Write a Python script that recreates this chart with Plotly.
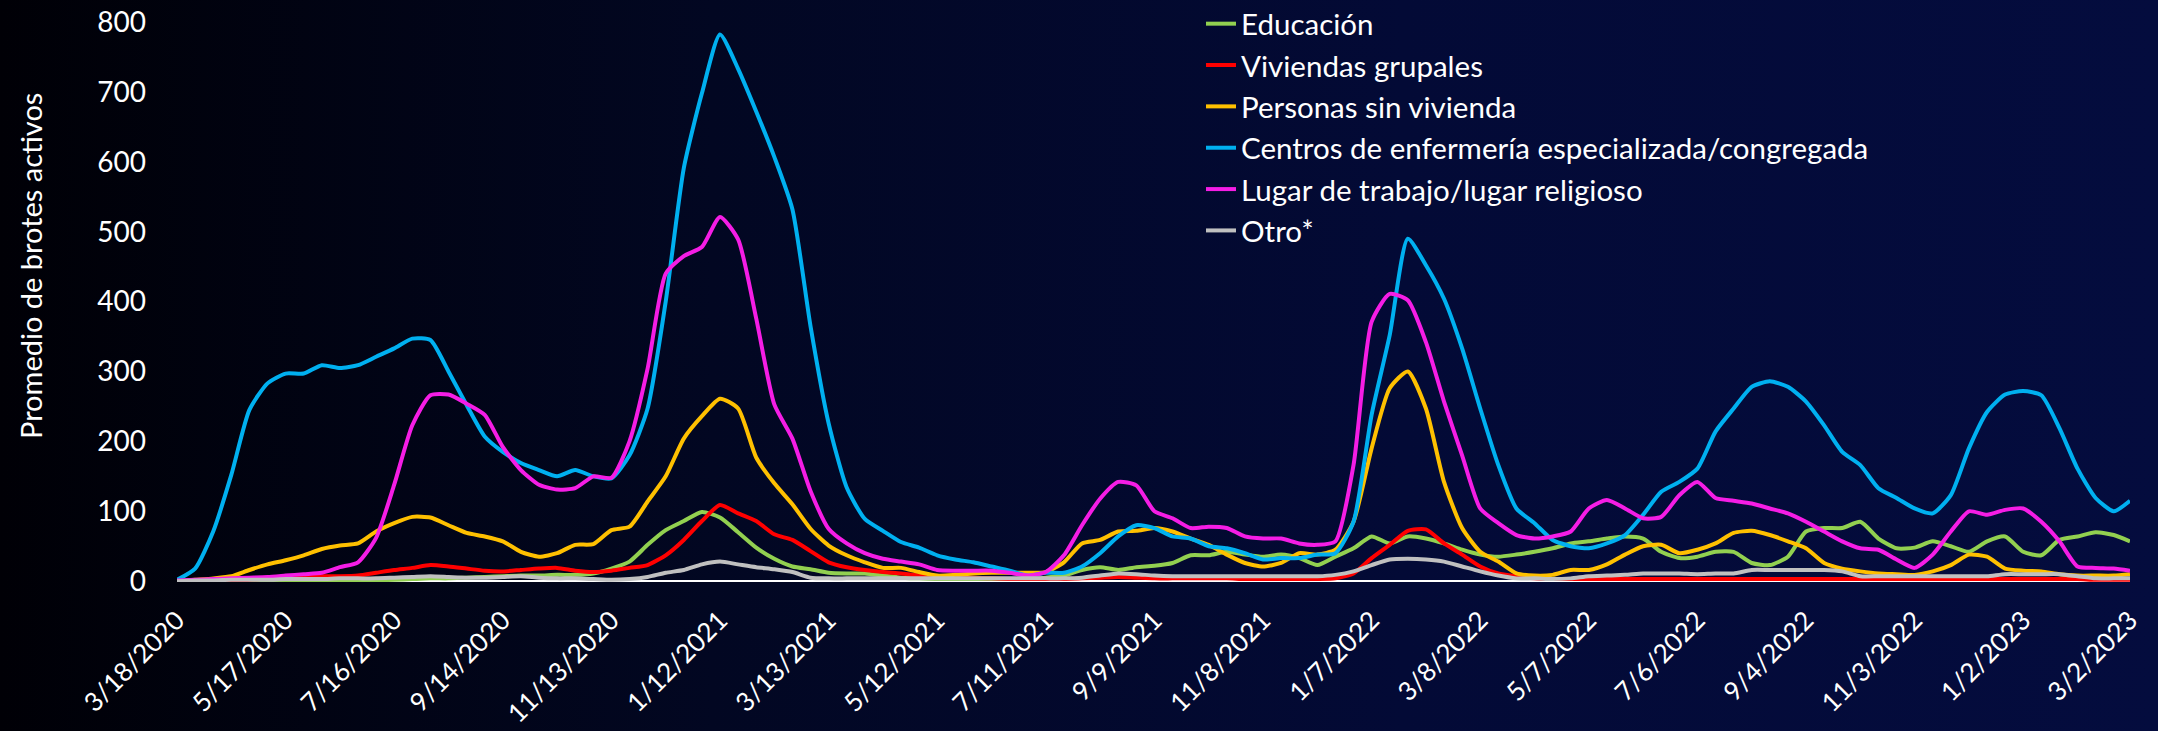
import base64
from datetime import date, timedelta
import plotly.graph_objects as go

# ---------------- data ----------------
START = date(2020, 3, 18)
END = date(2023, 3, 2)
sample_days = list(range(0, 1071, 10)) + [1079]
dates = [START + timedelta(days=d) for d in sample_days]

series_names = [
    "Educación",
    "Viviendas grupales",
    "Personas sin vivienda",
    "Centros de enfermería especializada/congregada",
    "Lugar de trabajo/lugar religioso",
    "Otro*",
]

educacion = [0, 0, 0, 0, 0, 0, 0, 0, 0, 0,
             0, 1, 2, 3, 4, 4, 5, 6, 7, 8,
             8, 9, 9, 11, 18, 28, 52, 73, 86, 99,
             91, 70, 48, 32, 21, 17, 12, 11, 11, 8,
             5, 4, 3, 3, 3, 3, 3, 3, 5, 8,
             16, 20, 16, 20, 22, 26, 37, 37, 42, 38,
             35, 38, 33, 23, 35, 47, 64, 54, 64, 61,
             54, 45, 38, 35, 38, 42, 47, 54, 57, 61,
             64, 61, 42, 33, 35, 42, 42, 26, 23, 35,
             71, 76, 76, 85, 61, 47, 48, 57, 50, 42,
             57, 64, 42, 37, 59, 64, 70, 66,
             57]

viviendas = [0, 0, 1, 1, 2, 4, 6, 7, 7, 7,
             8, 12, 16, 19, 23, 21, 18, 15, 14, 16,
             18, 19, 15, 13, 15, 19, 23, 37, 59, 86,
             109, 97, 86, 67, 59, 43, 27, 20, 16, 13,
             11, 8, 5, 5, 5, 4, 3, 3, 3, 3,
             4, 5, 6, 5, 4, 4, 4, 4, 4, 3,
             3, 3, 3, 3, 4, 11, 33, 52, 72, 74,
             54, 38, 21, 11, 7, 4, 3, 3, 3, 3,
             3, 3, 3, 3, 3, 3, 3, 3, 3, 3,
             3, 3, 3, 3, 3, 3, 3, 3, 3, 3,
             3, 3, 3, 3, 3, 3, 2, 2,
             2]

sin_vivienda = [0, 2, 4, 7, 16, 24, 30, 37, 46, 51,
                54, 71, 83, 92, 91, 80, 69, 64, 57, 42,
                35, 40, 52, 53, 73, 78, 114, 150, 204, 236,
                261, 247, 177, 140, 110, 75, 51, 37, 27, 19,
                19, 13, 8, 9, 11, 12, 12, 12, 13, 27,
                54, 59, 71, 72, 76, 71, 61, 52, 38, 26,
                21, 26, 40, 38, 45, 85, 190, 276, 300, 247,
                142, 76, 42, 28, 11, 8, 9, 16, 16, 24,
                38, 50, 52, 40, 45, 54, 69, 72, 66, 57,
                47, 26, 18, 14, 11, 10, 9, 14, 23, 38,
                35, 18, 15, 14, 10, 8, 8, 8,
                10]

enfermeria = [2, 18, 71, 152, 245, 283, 297, 297, 309, 305,
              309, 321, 333, 347, 345, 300, 252, 207, 185, 169,
              159, 150, 159, 150, 147, 180, 247, 400, 591, 698,
              782, 733, 672, 607, 532, 365, 226, 134, 89, 72,
              56, 48, 37, 31, 27, 21, 15, 8, 12, 12,
              21, 40, 64, 80, 76, 64, 61, 50, 47, 40,
              31, 33, 33, 38, 40, 85, 238, 352, 490, 452,
              404, 333, 247, 166, 104, 83, 59, 50, 47, 54,
              66, 95, 128, 142, 161, 214, 247, 278, 286, 278,
              257, 223, 185, 166, 133, 119, 104, 97, 123, 190,
              242, 267, 272, 266, 219, 161, 119, 100,
              115]

trabajo = [1, 2, 3, 4, 5, 6, 8, 10, 12, 20,
           27, 62, 138, 223, 266, 267, 254, 238, 192, 159,
           138, 131, 133, 150, 148, 200, 304, 440, 465, 478,
           521, 489, 376, 253, 204, 129, 75, 54, 40, 32,
           28, 24, 16, 15, 15, 15, 12, 8, 13, 37,
           80, 118, 142, 137, 100, 90, 76, 78, 76, 64,
           61, 61, 54, 52, 57, 166, 371, 411, 402, 342,
           257, 180, 104, 83, 66, 61, 64, 71, 104, 116,
           104, 90, 92, 123, 142, 119, 115, 111, 104, 97,
           85, 71, 57, 47, 45, 31, 19, 38, 71, 100,
           95, 102, 104, 85, 57, 21, 19, 18,
           15]

otro = [0, 1, 1, 2, 2, 2, 3, 3, 3, 4,
        4, 4, 5, 6, 7, 6, 5, 5, 6, 7,
        5, 4, 4, 3, 2, 3, 6, 12, 16, 24,
        28, 24, 20, 17, 13, 5, 4, 4, 4, 4,
        4, 4, 4, 4, 4, 4, 4, 4, 4, 4,
        5, 8, 11, 10, 8, 7, 7, 7, 7, 7,
        7, 7, 7, 7, 9, 14, 23, 31, 32, 31,
        28, 21, 14, 8, 4, 4, 3, 4, 7, 8,
        9, 11, 11, 11, 10, 11, 11, 16, 16, 16,
        16, 16, 14, 7, 7, 7, 7, 7, 7, 7,
        7, 10, 10, 10, 10, 7, 4, 4,
        4]

series_values = [educacion, viviendas, sin_vivienda, enfermeria, trabajo, otro]
series_colors = ["#92D050", "#FF0000", "#FFC000", "#00B0F0", "#F51DE5", "#C0C0C0"]

tick_dates = [START + timedelta(days=60 * i) for i in range(18)] + [END]
tick_labels = [f"{d.month}/{d.day}/{d.year}" for d in tick_dates]
y_ticks = list(range(0, 801, 100))

# ---------------- figure ----------------
W, H = 2158, 731
ML, MR, MT, MB = 177, 28, 22, 149
PW, PH = W - ML - MR, H - MT - MB
FONT = "Lato, 'Open Sans', sans-serif"

fig = go.Figure()
for name, vals, col in zip(series_names, series_values, series_colors):
    fig.add_trace(go.Scatter(
        x=dates, y=vals, name=name, mode="lines",
        line=dict(color=col, width=4, shape="spline", smoothing=0.6),
    ))

svg = (
    f'<svg xmlns="http://www.w3.org/2000/svg" width="{W}" height="{H}" '
    f'viewBox="0 0 {W} {H}" preserveAspectRatio="none">'
    '<defs><linearGradient id="g" x1="0" y1="0" x2="1" y2="0">'
    '<stop offset="0" stop-color="#000006"/>'
    '<stop offset="0.33" stop-color="#020722"/>'
    '<stop offset="0.65" stop-color="#030a36"/>'
    '<stop offset="1" stop-color="#040c3e"/>'
    '</linearGradient></defs>'
    f'<rect x="0" y="0" width="{W}" height="{H}" fill="url(#g)"/></svg>'
)
bg_src = "data:image/svg+xml;base64," + base64.b64encode(svg.encode()).decode()

fig.update_layout(
    width=W, height=H,
    margin=dict(l=ML, r=MR, t=MT, b=MB, pad=0, autoexpand=False),
    paper_bgcolor="#020726",
    plot_bgcolor="rgba(0,0,0,0)",
    font=dict(family=FONT, color="white", size=28),
    images=[dict(
        source=bg_src, xref="paper", yref="paper",
        x=-ML / PW, y=1 + MT / PH, sizex=W / PW, sizey=H / PH,
        xanchor="left", yanchor="top", sizing="stretch", layer="below",
    )],
    showlegend=True,
    legend=dict(
        x=(1201 - ML) / PW, xanchor="left",
        y=1 + 24 / PH, yanchor="top",
        bgcolor="rgba(0,0,0,0)",
        font=dict(family=FONT, size=29.5, color="white"),
        tracegroupgap=0,
        traceorder="normal",
        itemwidth=30,
    ),
    xaxis=dict(
        type="date",
        range=[START.isoformat(), END.isoformat()],
        tickvals=[d.isoformat() for d in tick_dates],
        ticktext=tick_labels,
        tickangle=-45,
        tickfont=dict(family=FONT, size=26, color="white"),
        showgrid=False, zeroline=False, showline=False,
        ticks="", ticklabelstandoff=17, automargin=False,
    ),
    yaxis=dict(
        range=[-1.2, 800],
        tickvals=y_ticks,
        tickfont=dict(family=FONT, size=28, color="white"),
        showgrid=False, showline=False,
        zeroline=True, zerolinecolor="white", zerolinewidth=2,
        ticks="", ticklabelstandoff=30, automargin=False,
    ),
    annotations=[dict(
        text="Promedio de brotes activos",
        xref="paper", yref="paper",
        x=(30 - ML) / PW, y=(582 - 266) / PH,
        xanchor="center", yanchor="middle",
        textangle=-90, showarrow=False,
        font=dict(family=FONT, size=29, color="white"),
    )],
)

fig.write_html(
    "out.html",
    config={"displayModeBar": False, "responsive": False},
    post_script=(
        "document.documentElement.style.margin='0';"
        "document.body.style.margin='0';"
        "document.body.style.overflow='hidden';"
        "document.body.style.background='#020726';"
    ),
)
